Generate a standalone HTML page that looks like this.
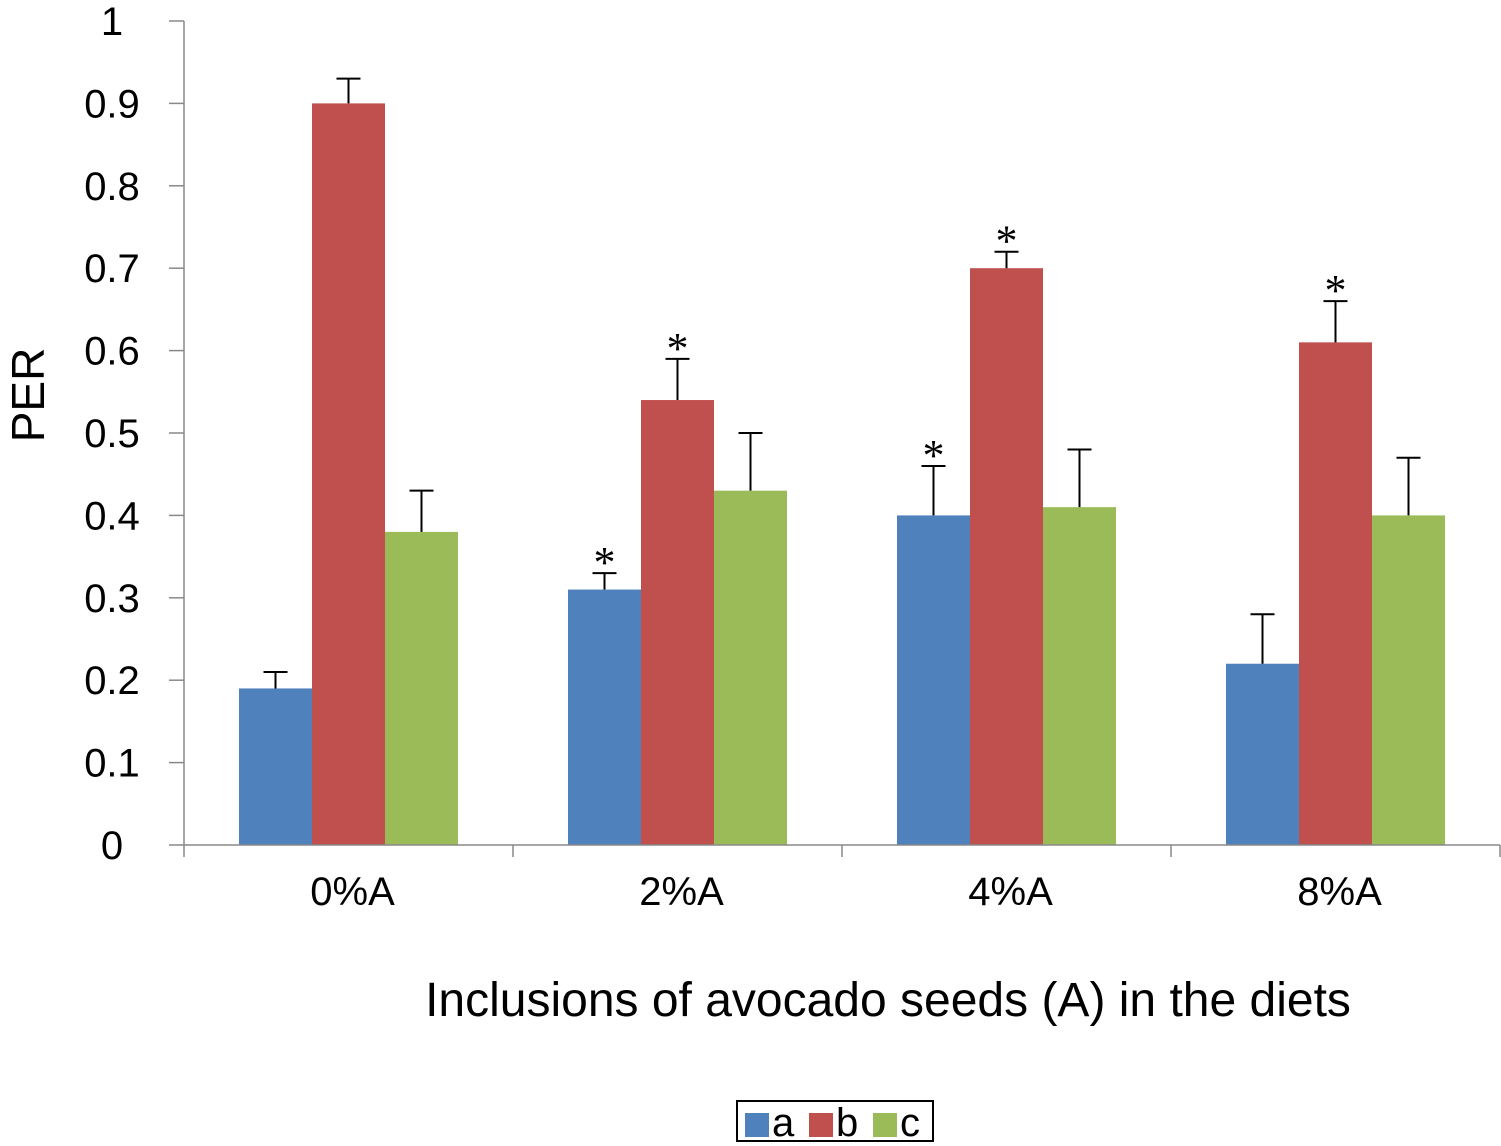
<!DOCTYPE html>
<html><head><meta charset="utf-8">
<style>
html,body{margin:0;padding:0;background:#fff;}
svg{display:block;font-family:"Liberation Sans",Arial,sans-serif;}
</style></head>
<body>
<svg id="chart" width="1501" height="1146" viewBox="0 0 1501 1146"></svg>
<script>
const categories = ["0%A","2%A","4%A","8%A"];
const seriesNames = ["a","b","c"];
const seriesColors = ["#4f81bd","#c0504d","#9bbb59"];
const valuesA = [0.19,0.31,0.40,0.22];
const valuesB = [0.90,0.54,0.70,0.61];
const valuesC = [0.38,0.43,0.41,0.40];
const errA = [0.02,0.02,0.06,0.06];
const errB = [0.03,0.05,0.02,0.05];
const errC = [0.05,0.07,0.07,0.07];
const starA = [false,true,true,false];
const starB = [false,true,true,true];
const starC = [false,false,false,false];
const yTicks = ["0","0.1","0.2","0.3","0.4","0.5","0.6","0.7","0.8","0.9","1"];

const NS="http://www.w3.org/2000/svg";
const svg=document.getElementById('chart');
const x0=184,x1=1500,yBase=845,yTop=21;
const y=v=>yBase-(v/1)*(yBase-yTop);
const catW=(x1-x0)/categories.length;
const barW=73;
const barX=(ci,si)=>x0+ci*catW+(catW-3*barW)/2+si*barW;
function mk(tag,attrs,parent){const e=document.createElementNS(NS,tag);for(const k in attrs)e.setAttribute(k,attrs[k]);(parent||svg).appendChild(e);return e;}

// y axis
const yAxis=mk('g',{});


mk('line',{x1:x0,y1:yTop,x2:x0,y2:yBase,stroke:'#888','stroke-width':1.5},yAxis);
yTicks.forEach((t,i)=>{
  const v=parseFloat(t);
  mk('line',{x1:x0-15,y1:y(v),x2:x0,y2:y(v),stroke:'#888','stroke-width':1.5},yAxis);
  const tx=mk('text',{x:112,y:y(v)+14,'text-anchor':'middle','font-size':40,fill:'#000'},yAxis);
  tx.textContent=t;
  
  
});
const yt=mk('text',{x:0,y:0,transform:'translate(44,395) rotate(-90)','text-anchor':'middle','font-size':46,fill:'#000'});
yt.textContent='PER';



// bars
const vals=[valuesA,valuesB,valuesC],errs=[errA,errB,errC],stars=[starA,starB,starC];
categories.forEach((c,ci)=>{
  for(let si=0;si<3;si++){
    const v=vals[si][ci],bx=barX(ci,si);
    const r=mk('rect',{x:bx,y:y(v),width:barW,height:yBase-y(v),fill:seriesColors[si]});
    
    
    const cx=bx+barW/2,top=y(v+errs[si][ci]);
    const eb=mk('path',{d:`M${cx},${y(v)}V${top}M${cx-12},${top}H${cx+12}`,stroke:'#000','stroke-width':2,fill:'none'});
    
    
    if(stars[si][ci]){
      const s=mk('text',{x:cx,y:top+4,'text-anchor':'middle','font-size':44,fill:'#000','font-family':'"Liberation Serif",serif'});
      s.textContent='*';
      
      
    }
  }
});

// x axis
const xAxis=mk('g',{});


mk('line',{x1:x0,y1:yBase,x2:x1,y2:yBase,stroke:'#888','stroke-width':1.5},xAxis);
for(let i=0;i<=categories.length;i++){
  mk('line',{x1:x0+i*catW,y1:yBase,x2:x0+i*catW,y2:yBase+12,stroke:'#888','stroke-width':1.5},xAxis);
}
categories.forEach((c,ci)=>{
  const t=mk('text',{x:x0+ci*catW+catW/2+4,y:905,'text-anchor':'middle','font-size':40,fill:'#000'},xAxis);
  t.textContent=c;
  
  
});
const xt=mk('text',{x:888,y:1016,'text-anchor':'middle','font-size':48,fill:'#000'});
xt.textContent='Inclusions of avocado seeds (A) in the diets';



// legend
const lg=mk('g',{});


mk('rect',{x:737,y:1101,width:196,height:40,fill:'#fff',stroke:'#000','stroke-width':2},lg);
seriesNames.forEach((n,i)=>{
  const gx=745+i*64;
  const e=mk('g',{},lg);
  
  
  mk('rect',{x:gx,y:1113,width:24,height:24,fill:seriesColors[i]},e);
  const t=mk('text',{x:gx+27,y:1136,'font-size':40,fill:'#000'},e);
  t.textContent=n;
});
</script>
</body></html>
